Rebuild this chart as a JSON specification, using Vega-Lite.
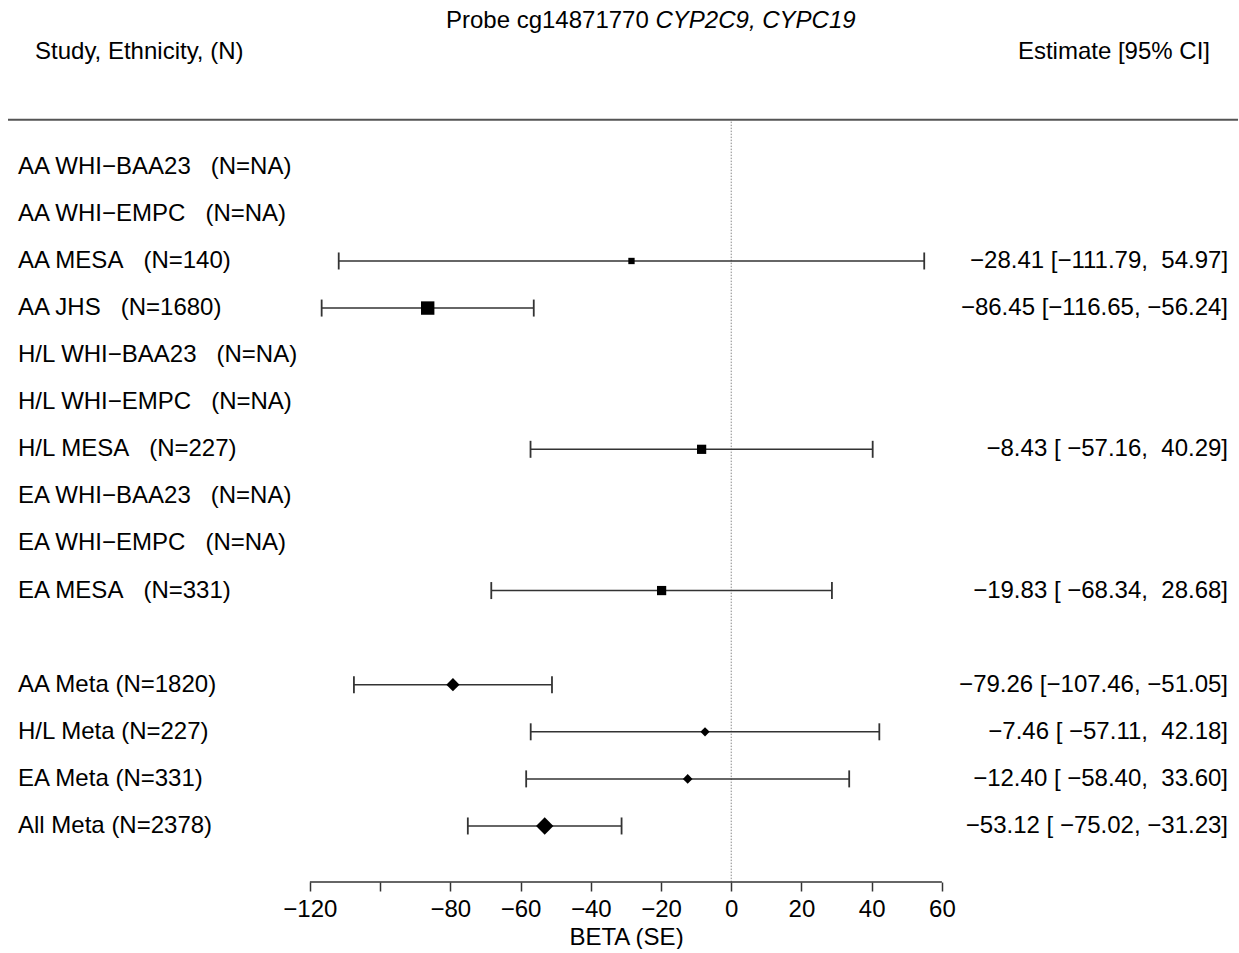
{
  "$schema": "https://vega.github.io/schema/vega-lite/v6.json",
  "width": 1239,
  "height": 882,
  "padding": 0,
  "background": "white",
  "config": {
    "font": "Liberation Sans",
    "view": {"stroke": null},
    "text": {"font": "Liberation Sans", "fontSize": 24, "color": "#000"},
    "axisX": {
      "domain": false, "grid": false,
      "tickSize": 9, "tickWidth": 1.5, "tickColor": "#333",
      "labelFont": "Liberation Sans", "labelFontSize": 24, "labelColor": "#000",
      "labelPadding": 6, "labelOverlap": false, "labelFlush": false,
      "titleFont": "Liberation Sans", "titleFontSize": 24,
      "titleFontWeight": "normal", "titleColor": "#000", "titlePadding": 4, "titleX": 626
    }
  },
  "data": {
    "values": [
      {"row": 1, "label": "AA WHI−BAA23\u00a0\u00a0\u00a0(N=NA)", "kind": "study"},
      {"row": 2, "label": "AA WHI−EMPC\u00a0\u00a0\u00a0(N=NA)", "kind": "study"},
      {"row": 3, "label": "AA MESA\u00a0\u00a0\u00a0(N=140)", "kind": "study", "est": -28.41, "lo": -111.79, "hi": 54.97, "w": 0.553, "ci": "−28.41 [−111.79,\u00a0\u00a054.97]"},
      {"row": 4, "label": "AA JHS\u00a0\u00a0\u00a0(N=1680)", "kind": "study", "est": -86.45, "lo": -116.65, "hi": -56.24, "w": 4.21, "ci": "−86.45 [−116.65, −56.24]"},
      {"row": 5, "label": "H/L WHI−BAA23\u00a0\u00a0\u00a0(N=NA)", "kind": "study"},
      {"row": 6, "label": "H/L WHI−EMPC\u00a0\u00a0\u00a0(N=NA)", "kind": "study"},
      {"row": 7, "label": "H/L MESA\u00a0\u00a0\u00a0(N=227)", "kind": "study", "est": -8.43, "lo": -57.16, "hi": 40.29, "w": 1.62, "ci": "−8.43 [\u00a0−57.16,\u00a0\u00a040.29]"},
      {"row": 8, "label": "EA WHI−BAA23\u00a0\u00a0\u00a0(N=NA)", "kind": "study"},
      {"row": 9, "label": "EA WHI−EMPC\u00a0\u00a0\u00a0(N=NA)", "kind": "study"},
      {"row": 10, "label": "EA MESA\u00a0\u00a0\u00a0(N=331)", "kind": "study", "est": -19.83, "lo": -68.34, "hi": 28.68, "w": 1.63, "ci": "−19.83 [\u00a0−68.34,\u00a0\u00a028.68]"},
      {"row": 12, "label": "AA Meta (N=1820)", "kind": "meta", "est": -79.26, "lo": -107.46, "hi": -51.05, "w": 4.83, "ci": "−79.26 [−107.46, −51.05]"},
      {"row": 13, "label": "H/L Meta (N=227)", "kind": "meta", "est": -7.46, "lo": -57.11, "hi": 42.18, "w": 1.56, "ci": "−7.46 [\u00a0−57.11,\u00a0\u00a042.18]"},
      {"row": 14, "label": "EA Meta (N=331)", "kind": "meta", "est": -12.40, "lo": -58.40, "hi": 33.60, "w": 1.82, "ci": "−12.40 [\u00a0−58.40,\u00a0\u00a033.60]"},
      {"row": 15, "label": "All Meta (N=2378)", "kind": "meta", "est": -53.12, "lo": -75.02, "hi": -31.23, "w": 8.01, "ci": "−53.12 [\u00a0−75.02, −31.23]"}
    ]
  },
  "layer": [
    {
      "data": {"values": [{}]},
      "mark": {"type": "rule", "stroke": "#555", "strokeWidth": 2},
      "encoding": {
        "x": {"datum": -205.98, "type": "quantitative", "scale": {"domain": [-208.26, 144.62], "nice": false, "zero": false}, "axis": {"values": [-120, -100, -80, -60, -40, -20, 0, 20, 40, 60], "labelExpr": "datum.value == -100 ? '' : datum.label", "title": "BETA (SE)"}},
        "x2": {"datum": 144.34},
        "y": {"datum": 0, "type": "quantitative", "scale": {"domain": [-2.543, 16.19], "reverse": true, "nice": false, "zero": false}, "axis": null}
      }
    },
    {
      "data": {"values": [{}]},
      "mark": {"type": "rule", "stroke": "#888", "strokeWidth": 1, "strokeDash": [1.5, 1.5]},
      "encoding": {
        "x": {"datum": 0, "type": "quantitative", "scale": {"domain": [-208.26, 144.62], "nice": false, "zero": false}, "axis": {"values": [-120, -100, -80, -60, -40, -20, 0, 20, 40, 60], "labelExpr": "datum.value == -100 ? '' : datum.label", "title": "BETA (SE)"}},
        "y": {"datum": 0.04, "type": "quantitative", "scale": {"domain": [-2.543, 16.19], "reverse": true, "nice": false, "zero": false}, "axis": null},
        "y2": {"datum": 16.19}
      }
    },
    {
      "data": {"values": [{}]},
      "mark": {"type": "rule", "stroke": "#333", "strokeWidth": 1.5},
      "encoding": {
        "x": {"datum": -120, "type": "quantitative", "scale": {"domain": [-208.26, 144.62], "nice": false, "zero": false}, "axis": {"values": [-120, -100, -80, -60, -40, -20, 0, 20, 40, 60], "labelExpr": "datum.value == -100 ? '' : datum.label", "title": "BETA (SE)"}},
        "x2": {"datum": 60},
        "y": {"datum": 16.19, "type": "quantitative", "scale": {"domain": [-2.543, 16.19], "reverse": true, "nice": false, "zero": false}, "axis": null}
      }
    },
    {
      "transform": [{"filter": "isValid(datum.est)"}],
      "mark": {"type": "rule", "stroke": "#333", "strokeWidth": 1.5},
      "encoding": {
        "x": {"field": "lo", "type": "quantitative", "scale": {"domain": [-208.26, 144.62], "nice": false, "zero": false}, "axis": {"values": [-120, -100, -80, -60, -40, -20, 0, 20, 40, 60], "labelExpr": "datum.value == -100 ? '' : datum.label", "title": "BETA (SE)"}},
        "x2": {"field": "hi"},
        "y": {"field": "row", "type": "quantitative", "scale": {"domain": [-2.543, 16.19], "reverse": true, "nice": false, "zero": false}, "axis": null}
      }
    },
    {
      "transform": [{"filter": "isValid(datum.est)"}],
      "mark": {"type": "point", "shape": "M0,-1L0,1", "size": 289, "filled": false, "stroke": "#333", "strokeWidth": 1.8, "opacity": 1},
      "encoding": {
        "x": {"field": "lo", "type": "quantitative", "scale": {"domain": [-208.26, 144.62], "nice": false, "zero": false}, "axis": {"values": [-120, -100, -80, -60, -40, -20, 0, 20, 40, 60], "labelExpr": "datum.value == -100 ? '' : datum.label", "title": "BETA (SE)"}},
        "y": {"field": "row", "type": "quantitative", "scale": {"domain": [-2.543, 16.19], "reverse": true, "nice": false, "zero": false}, "axis": null}
      }
    },
    {
      "transform": [{"filter": "isValid(datum.est)"}],
      "mark": {"type": "point", "shape": "M0,-1L0,1", "size": 289, "filled": false, "stroke": "#333", "strokeWidth": 1.8, "opacity": 1},
      "encoding": {
        "x": {"field": "hi", "type": "quantitative", "scale": {"domain": [-208.26, 144.62], "nice": false, "zero": false}, "axis": {"values": [-120, -100, -80, -60, -40, -20, 0, 20, 40, 60], "labelExpr": "datum.value == -100 ? '' : datum.label", "title": "BETA (SE)"}},
        "y": {"field": "row", "type": "quantitative", "scale": {"domain": [-2.543, 16.19], "reverse": true, "nice": false, "zero": false}, "axis": null}
      }
    },
    {
      "transform": [{"filter": "isValid(datum.est) && datum.kind == 'study'"}],
      "mark": {"type": "point", "shape": "square", "filled": true, "color": "black", "opacity": 1},
      "encoding": {
        "x": {"field": "est", "type": "quantitative", "scale": {"domain": [-208.26, 144.62], "nice": false, "zero": false}, "axis": {"values": [-120, -100, -80, -60, -40, -20, 0, 20, 40, 60], "labelExpr": "datum.value == -100 ? '' : datum.label", "title": "BETA (SE)"}},
        "y": {"field": "row", "type": "quantitative", "scale": {"domain": [-2.543, 16.19], "reverse": true, "nice": false, "zero": false}, "axis": null},
        "size": {"field": "w", "type": "quantitative", "scale": {"domain": [0.553, 1.62, 4.21], "range": [40, 85, 180], "zero": false}, "legend": null}
      }
    },
    {
      "transform": [{"filter": "isValid(datum.est) && datum.kind == 'meta'"}],
      "mark": {"type": "point", "shape": "diamond", "filled": true, "color": "black", "opacity": 1},
      "encoding": {
        "x": {"field": "est", "type": "quantitative", "scale": {"domain": [-208.26, 144.62], "nice": false, "zero": false}, "axis": {"values": [-120, -100, -80, -60, -40, -20, 0, 20, 40, 60], "labelExpr": "datum.value == -100 ? '' : datum.label", "title": "BETA (SE)"}},
        "y": {"field": "row", "type": "quantitative", "scale": {"domain": [-2.543, 16.19], "reverse": true, "nice": false, "zero": false}, "axis": null},
        "size": {"field": "w", "type": "quantitative", "scale": {"domain": [1.56, 4.83, 8.01], "range": [85, 175, 300], "zero": false}, "legend": null}
      }
    },
    {
      "mark": {"type": "text", "align": "left", "baseline": "middle", "fontSize": 24, "color": "#000"},
      "encoding": {
        "x": {"datum": -203.13, "type": "quantitative", "scale": {"domain": [-208.26, 144.62], "nice": false, "zero": false}, "axis": {"values": [-120, -100, -80, -60, -40, -20, 0, 20, 40, 60], "labelExpr": "datum.value == -100 ? '' : datum.label", "title": "BETA (SE)"}},
        "y": {"field": "row", "type": "quantitative", "scale": {"domain": [-2.543, 16.19], "reverse": true, "nice": false, "zero": false}, "axis": null},
        "text": {"field": "label"}
      }
    },
    {
      "transform": [{"filter": "isValid(datum.est)"}],
      "mark": {"type": "text", "align": "right", "baseline": "middle", "fontSize": 24, "color": "#000"},
      "encoding": {
        "x": {"datum": 141.5, "type": "quantitative", "scale": {"domain": [-208.26, 144.62], "nice": false, "zero": false}, "axis": {"values": [-120, -100, -80, -60, -40, -20, 0, 20, 40, 60], "labelExpr": "datum.value == -100 ? '' : datum.label", "title": "BETA (SE)"}},
        "y": {"field": "row", "type": "quantitative", "scale": {"domain": [-2.543, 16.19], "reverse": true, "nice": false, "zero": false}, "axis": null},
        "text": {"field": "ci"}
      }
    },
    {
      "data": {"values": [{}]},
      "mark": {"type": "text", "align": "left", "baseline": "middle", "fontSize": 24, "color": "#000"},
      "encoding": {
        "x": {"datum": -198.29, "type": "quantitative", "scale": {"domain": [-208.26, 144.62], "nice": false, "zero": false}, "axis": {"values": [-120, -100, -80, -60, -40, -20, 0, 20, 40, 60], "labelExpr": "datum.value == -100 ? '' : datum.label", "title": "BETA (SE)"}},
        "y": {"datum": -1.434, "type": "quantitative", "scale": {"domain": [-2.543, 16.19], "reverse": true, "nice": false, "zero": false}, "axis": null},
        "text": {"value": "Study, Ethnicity, (N)"}
      }
    },
    {
      "data": {"values": [{}]},
      "mark": {"type": "text", "align": "right", "baseline": "middle", "fontSize": 24, "color": "#000"},
      "encoding": {
        "x": {"datum": 136.36, "type": "quantitative", "scale": {"domain": [-208.26, 144.62], "nice": false, "zero": false}, "axis": {"values": [-120, -100, -80, -60, -40, -20, 0, 20, 40, 60], "labelExpr": "datum.value == -100 ? '' : datum.label", "title": "BETA (SE)"}},
        "y": {"datum": -1.434, "type": "quantitative", "scale": {"domain": [-2.543, 16.19], "reverse": true, "nice": false, "zero": false}, "axis": null},
        "text": {"value": "Estimate [95% CI]"}
      }
    },
    {
      "data": {"values": [{}]},
      "mark": {"type": "text", "align": "right", "baseline": "middle", "fontSize": 24, "color": "#000"},
      "encoding": {
        "x": {"datum": -23.48, "type": "quantitative", "scale": {"domain": [-208.26, 144.62], "nice": false, "zero": false}, "axis": {"values": [-120, -100, -80, -60, -40, -20, 0, 20, 40, 60], "labelExpr": "datum.value == -100 ? '' : datum.label", "title": "BETA (SE)"}},
        "y": {"datum": -2.093, "type": "quantitative", "scale": {"domain": [-2.543, 16.19], "reverse": true, "nice": false, "zero": false}, "axis": null},
        "text": {"value": "Probe cg14871770"}
      }
    },
    {
      "data": {"values": [{}]},
      "mark": {"type": "text", "align": "left", "baseline": "middle", "fontSize": 24, "fontStyle": "italic", "color": "#000"},
      "encoding": {
        "x": {"datum": -21.56, "type": "quantitative", "scale": {"domain": [-208.26, 144.62], "nice": false, "zero": false}, "axis": {"values": [-120, -100, -80, -60, -40, -20, 0, 20, 40, 60], "labelExpr": "datum.value == -100 ? '' : datum.label", "title": "BETA (SE)"}},
        "y": {"datum": -2.093, "type": "quantitative", "scale": {"domain": [-2.543, 16.19], "reverse": true, "nice": false, "zero": false}, "axis": null},
        "text": {"value": "CYP2C9, CYPC19"}
      }
    }
  ],
  "resolve": {"scale": {"size": "independent"}}
}
